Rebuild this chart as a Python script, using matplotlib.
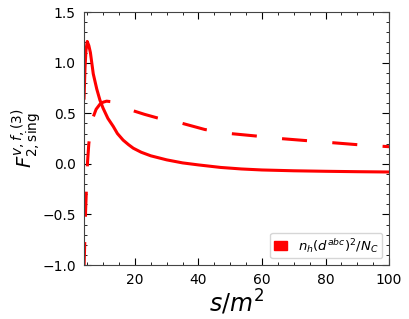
import matplotlib
matplotlib.use('Agg')
import matplotlib.pyplot as plt
from matplotlib.patches import Patch
from matplotlib.ticker import MultipleLocator

# solid curve
s_solid = [4.0, 4.3, 4.6, 5.0, 5.5, 6.0, 6.9, 8.0, 9.0, 10.0, 11.5, 13.2, 14.5, 16.3,
           18.0, 19.5, 22.0, 25.0, 30.0, 35.0, 40.0, 47.0, 53.5, 60.0, 70.0, 80.0, 90.0, 100.0]
f_solid = [0.65, 0.95, 1.12, 1.21, 1.17, 1.10, 0.89, 0.74, 0.63, 0.55, 0.45, 0.37, 0.30, 0.235,
           0.19, 0.155, 0.115, 0.08, 0.04, 0.01, -0.01, -0.035, -0.05, -0.06, -0.068, -0.073, -0.077, -0.08]

# dashed curve
s_dash = [4.0, 4.2, 4.5, 4.8, 5.1, 5.5, 6.2, 6.9, 7.8, 9.0, 10.0, 11.1, 12.5, 14.0, 16.0, 19.5,
          23.0, 27.0, 31.0, 35.0, 42.0, 50.0, 58.0, 66.0, 74.0, 82.0, 90.0, 100.0]
f_dash = [-1.02, -0.8, -0.45, -0.2, 0.02, 0.2, 0.37, 0.465, 0.54, 0.59, 0.61, 0.62, 0.615, 0.60, 0.575, 0.525,
          0.49, 0.455, 0.425, 0.40, 0.34, 0.30, 0.276, 0.25, 0.23, 0.21, 0.19, 0.17]

fig = plt.figure(figsize=(4.1, 3.19), dpi=100)
ax = fig.add_axes([0.205, 0.169, 0.744, 0.793])

ax.plot(s_solid, f_solid, color='red', lw=2.2)
ax.plot(s_dash, f_dash, color='red', lw=2.2, dashes=(8.2, 8.3))

ax.set_xlim(4, 100)
ax.set_ylim(-1.0, 1.5)
ax.xaxis.set_major_locator(MultipleLocator(20))
ax.xaxis.set_minor_locator(MultipleLocator(5))
ax.yaxis.set_major_locator(MultipleLocator(0.5))
ax.yaxis.set_minor_locator(MultipleLocator(0.1))
ax.tick_params(which='both', direction='in', top=True, right=True, labelsize=10)
ax.tick_params(which='major', length=5, pad=6)
ax.tick_params(which='minor', length=2.5)
for sp in ax.spines.values():
    sp.set_color('#444444')

ax.set_xlabel(r'$s/m^2$', fontsize=17, labelpad=0)
ax.set_ylabel(r'$F^{v,f,(3)}_{2,\mathrm{sing}}$', fontsize=14, labelpad=-1)

ax.legend(handles=[Patch(color='red', label=r'$n_h(d^{abc})^2/N_C$')], loc='lower right',
          fontsize=9.5, handlelength=1.0, borderpad=0.3)

fig.savefig('out.png', dpi=100)
